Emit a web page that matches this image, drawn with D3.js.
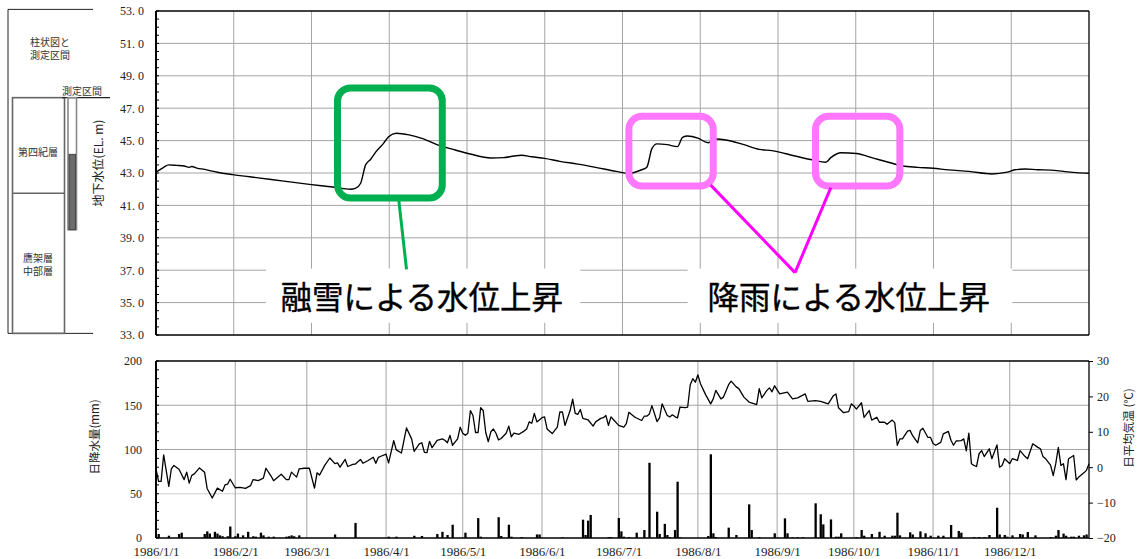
<!DOCTYPE html>
<html>
<head>
<meta charset="utf-8">
<script src="https://cdn.jsdelivr.net/npm/d3@7"></script>
<style>
body{margin:0;background:#fff;}
</style>
</head>
<body>
<svg id="chart" width="1138" height="559"></svg>
<script>
// groundwater level (EL. m), day-of-year offsets from 1986/1/1
var gwDays = [0,3,5,8,11,13,14,16,19,21,
  24,30,40,50,60,70,76,78,80,82,
  84,86,89,91,94,99,104,111,117,123,
  131,136,140,143,147,152,158,165,172,180,
  185,190,192,194,196,200,204,206,208,212,
  216,219,223,230,236,241,250,257,262,264,
  268,274,281,288,292,298,304,310,318,327,
  333,336,340,345,350,355,360,365];
var gwLevel = [43.05,43.35,43.5,43.47,43.43,43.35,43.4,43.3,43.22,43.15,
  43.05,42.9,42.7,42.5,42.3,42.12,42.0,42.05,42.35,43.5,
  43.85,44.3,44.83,45.24,45.45,45.35,45.14,44.69,44.42,44.17,
  43.93,43.95,44.05,44.1,44.0,43.9,43.72,43.55,43.35,43.1,
  42.98,43.2,43.35,44.5,44.8,44.75,44.63,45.2,45.28,45.15,
  44.87,45.1,45.04,44.75,44.46,44.38,44.05,43.8,43.66,43.95,
  44.25,44.2,43.9,43.6,43.43,43.35,43.29,43.19,43.1,42.94,
  43.05,43.2,43.25,43.2,43.18,43.1,43.02,42.98];

// daily mean temperature (deg C)
var tempDays = [0,1,2,3,5,6,7,9,11,12,
  13,14,15,17,19,20,22,24,26,27,
  28,29,31,33,35,37,38,40,42,43,
  45,46,49,51,52,53,55,56,58,60,
  62,63,64,66,68,70,71,72,74,75,
  77,78,80,81,83,85,86,87,88,90,
  91,93,94,96,98,100,101,103,104,105,
  106,107,108,110,112,113,114,115,116,118,
  119,120,121,122,123,124,125,126,127,128,
  129,130,131,132,133,134,135,137,138,139,
  140,142,144,145,146,147,148,149,151,152,
  153,155,157,158,159,160,162,163,164,165,
  166,167,169,171,172,174,175,176,177,178,
  179,181,183,184,185,187,188,190,191,192,
  193,194,196,197,198,200,201,202,203,204,
  205,207,208,209,210,211,212,213,215,217,
  218,219,221,222,224,225,227,228,230,232,
  235,236,237,239,240,241,242,244,247,249,
  251,254,255,258,260,263,265,266,267,269,
  271,272,273,274,276,277,279,280,282,283,
  285,286,288,289,290,291,292,294,295,296,
  298,299,300,302,303,304,305,307,308,310,
  311,312,313,315,316,317,318,319,320,321,
  322,323,324,326,327,329,330,331,332,334,
  335,337,338,340,341,343,345,346,347,348,
  350,351,352,353,354,355,356,357,359,360,
  361,363,364,365];
var tempVals = [-0.5,-4.0,-4.0,3.5,-5.4,-0.5,0.5,-0.6,-3.5,-1.4,
  -4.5,-2.3,-1.9,-0.2,-1.4,-6.0,-8.7,-5.9,-6.8,-5.0,
  -4.8,-3.4,-5.8,-5.7,-6.0,-5.2,-3.5,-3.8,-3.1,-0.3,
  -2.5,-3.8,-2.0,-3.5,-3.5,-1.4,-2.8,-0.5,-0.3,-0.3,
  -5.9,-1.6,-2.2,0.5,2.6,1.0,1.2,0.0,2.2,0.2,
  0.8,0.9,2.2,1.1,1.9,2.8,1.1,2.8,3.1,3.7,
  1.2,7.5,4.9,4.0,11.1,8.0,4.5,6.6,6.9,4.2,
  4.1,7.3,5.5,7.6,8.0,7.6,6.9,9.0,6.2,8.0,
  11.3,9.6,9.0,9.6,16.0,14.6,9.8,9.8,16.8,16.0,
  9.8,7.2,10.0,10.8,9.6,7.7,8.1,9.6,11.6,8.6,
  9.6,9.3,10.2,10.8,12.8,12.4,15.2,12.8,14.0,14.2,
  10.8,9.5,11.3,15.6,15.6,11.8,16.0,19.2,15.2,14.9,
  16.3,13.8,13.4,11.6,12.8,13.8,14.0,14.6,11.8,14.2,
  13.4,11.8,11.3,12.3,15.5,14.3,13.9,13.2,14.4,14.4,
  15.0,17.4,12.9,13.9,17.9,14.6,14.2,14.8,14.3,13.9,
  17.0,16.8,17.0,23.3,25.0,24.0,26.1,23.6,20.5,17.9,
  19.3,21.7,19.3,19.8,23.3,24.3,22.7,22.2,19.8,18.4,
  17.7,22.2,19.6,21.7,22.4,21.3,23.0,20.7,21.2,19.3,
  19.6,20.7,18.6,18.8,18.6,17.9,20.2,20.7,16.8,15.4,
  15.7,17.9,17.3,16.4,18.2,14.1,16.0,13.3,14.1,12.7,
  12.7,12.1,13.3,12.6,6.2,8.0,8.0,10.2,10.4,8.9,
  6.9,10.4,11.0,8.4,8.4,6.7,6.2,7.0,9.4,10.1,
  7.6,6.2,7.4,7.5,8.0,4.6,9.6,1.0,0.5,0.2,
  3.8,4.7,3.0,5.2,2.4,6.3,0.0,0.5,2.4,1.0,
  2.4,1.9,4.7,3.0,2.4,6.6,5.6,5.2,3.0,2.4,
  0.5,-2.4,1.0,5.6,0.5,1.0,-3.5,2.4,3.3,-3.6,
  -2.8,-1.6,-0.9,1.0];

// daily precipitation (mm)
var rainDays = [1,5,9,10,19,20,21,23,24,25,
  26,28,29,31,32,34,36,38,39,41,
  42,44,46,51,52,53,54,56,70,78,
  91,94,101,104,110,112,114,116,121,126,
  127,134,135,138,139,143,149,150,159,167,
  168,169,170,177,178,181,182,183,185,188,
  191,193,196,197,199,200,201,203,204,205,
  216,217,218,219,224,227,232,233,236,242,
  246,247,249,251,253,258,260,261,264,266,
  267,268,274,276,277,280,283,285,288,289,
  290,291,295,296,299,301,303,306,308,311,
  314,315,320,322,324,326,329,330,332,333,
  335,338,339,341,344,350,352,353,355,356,
  358,359,361,363,364];
var rainVals = [4.5,2.6,4.5,6,4.5,7.5,5,7,5,3,
  2,2,13,2,5,3,7,2,1.5,6,
  3,1.5,1.5,1.5,2,3,2,3,4,17,
  1.5,1.5,2.5,2.3,4.5,7,3.4,15,6,22.5,
  1.5,23.5,2.3,15,1.5,1,4,4,0.8,20.7,
  3.4,19.6,26,1,1,22.6,7.5,1.5,1,6,
  9,85,29.7,4.5,16,3.4,1,9,63.6,0.8,
  2.3,94.6,5.3,1,11.7,3.4,38,9,1,5.3,
  22.2,5.3,0.8,0.8,0.8,39.2,26.8,15.4,21,1.5,
  1.5,5.3,1,9,2.6,4.5,7,2.6,2.6,2.6,
  28.6,3,6.4,4,7.5,5.3,2.6,2.6,2.6,14.7,
  7.9,6,1,1,1,3.4,34.2,4,3.4,1.5,
  3,4.5,4,6.8,3,1,2.6,9,5,2.6,
  1.5,1.5,2.6,3,4];

var levelTicks = [33,35,37,39,41,43,45,47,49,51,53];
var rainTicks = [0,50,100,150,200];
var tempTicks = [-20,-10,0,10,20,30];
var monthLabels = ["1986/1/1","1986/2/1","1986/3/1","1986/4/1","1986/5/1","1986/6/1",
  "1986/7/1","1986/8/1","1986/9/1","1986/10/1","1986/11/1","1986/12/1"];

var SERIF = "'Liberation Serif','DejaVu Serif',serif";
var JP = "'Noto Sans CJK JP',sans-serif";

var svg = d3.select("svg#chart");
var L = 156, R = 1089;
var day0 = new Date(1986,0,1);
function toDate(d){ return d3.timeDay.offset(day0, d); }

var timeScale = d3.scaleTime().domain([day0, new Date(1987,0,1)]).range([L,R]);
var topGridScale = d3.scaleLinear().domain([0,12]).range([L,R]);
var levelScale = d3.scaleLinear().domain([33,53]).range([335,11]);
var rainScale = d3.scaleLinear().domain([0,200]).range([538,361]);
var tempScale = d3.scaleLinear().domain([-20,30]).range([538,361]);
var monthDates = d3.timeMonth.range(day0, new Date(1987,0,1));

// ---------- top chart grid ----------
var topG = svg.append("g");
topG.selectAll("line.hgrid").data(levelTicks.slice(1,-1)).enter().append("line")
  .attr("x1",L).attr("x2",R)
  .attr("y1",function(d){return levelScale(d);}).attr("y2",function(d){return levelScale(d);})
  .attr("stroke","#a4a4a4").attr("stroke-width",1);
topG.selectAll("line.vgrid").data(d3.range(1,12)).enter().append("line")
  .attr("x1",function(d){return topGridScale(d);}).attr("x2",function(d){return topGridScale(d);})
  .attr("y1",levelScale(53)).attr("y2",levelScale(33))
  .attr("stroke","#a4a4a4").attr("stroke-width",1);

// ---------- bottom chart grid ----------
var botG = svg.append("g");
botG.selectAll("line.hgrid").data([50,100,150]).enter().append("line")
  .attr("x1",L).attr("x2",R)
  .attr("y1",function(d){return rainScale(d);}).attr("y2",function(d){return rainScale(d);})
  .attr("stroke",function(d){return d==50 ? "#cfcfcf" : "#a4a4a4";}).attr("stroke-width",1);
botG.selectAll("line.vgrid").data(monthDates.slice(1)).enter().append("line")
  .attr("x1",function(d){return timeScale(d);}).attr("x2",function(d){return timeScale(d);})
  .attr("y1",rainScale(200)).attr("y2",rainScale(0))
  .attr("stroke","#a4a4a4").attr("stroke-width",1);

// ---------- annotation backgrounds (white boxes behind the captions) ----------
var notes = [
  {text:"融雪による水位上昇", cx:104.5, d0:43, d1:166},
  {text:"降雨による水位上昇", cx:271.5, d0:208, d1:335}
];
svg.selectAll("rect.notebg").data(notes).enter().append("rect")
  .attr("x",function(d){return timeScale(toDate(d.d0));})
  .attr("width",function(d){return timeScale(toDate(d.d1))-timeScale(toDate(d.d0));})
  .attr("y",levelScale(37.1)).attr("height",levelScale(33.75)-levelScale(37.1))
  .attr("fill","#fff");

// ---------- groundwater line ----------
var gwData = gwDays.map(function(d,i){return {date:toDate(d), v:gwLevel[i]};});
svg.append("path").datum(gwData)
  .attr("d", d3.line().x(function(d){return timeScale(d.date);}).y(function(d){return levelScale(d.v);}).curve(d3.curveMonotoneX))
  .attr("fill","none").attr("stroke","#000").attr("stroke-width",1.4);

// ---------- rain bars ----------
var rainData = rainDays.map(function(d,i){return {date:toDate(d), v:rainVals[i]};});
svg.selectAll("rect.rain").data(rainData).enter().append("rect")
  .attr("class","rain")
  .attr("x",function(d){return timeScale(d.date)-1;})
  .attr("width",2.3)
  .attr("y",function(d){return rainScale(d.v);})
  .attr("height",function(d){return rainScale(0)-rainScale(d.v);})
  .attr("fill","#000");

// ---------- temperature line ----------
var tempData = tempDays.map(function(d,i){return {date:toDate(d), v:tempVals[i]};});
svg.append("path").datum(tempData)
  .attr("d", d3.line().x(function(d){return timeScale(d.date);}).y(function(d){return tempScale(d.v);}))
  .attr("fill","none").attr("stroke","#000").attr("stroke-width",1.3).attr("stroke-linejoin","round");

// ---------- frames ----------
function frame(y0,y1){
  svg.append("line").attr("x1",L).attr("x2",R).attr("y1",y0).attr("y2",y0).attr("stroke","#000").attr("stroke-width",1.5);
  svg.append("line").attr("x1",L).attr("x2",R).attr("y1",y1).attr("y2",y1).attr("stroke","#000").attr("stroke-width",1.5);
  svg.append("line").attr("x1",L).attr("x2",L).attr("y1",y0).attr("y2",y1).attr("stroke","#000").attr("stroke-width",2);
  svg.append("line").attr("x1",R).attr("x2",R).attr("y1",y0).attr("y2",y1).attr("stroke","#000").attr("stroke-width",1.3);
}
frame(levelScale(53), levelScale(33));
frame(rainScale(200), rainScale(0));

// ---------- axes ----------
function styleAxis(g, size){
  g.select(".domain").remove();
  g.attr("font-family", SERIF);
  g.selectAll("text").attr("font-family", SERIF).attr("font-size", size).attr("fill", "#222");
}
var ax1 = svg.append("g").attr("transform","translate("+L+",0)")
  .call(d3.axisLeft(levelScale).tickValues(levelTicks).tickFormat(function(d){return d3.format(".1f")(d).replace(".",". ");}).tickSize(0).tickPadding(12));
styleAxis(ax1, 12);
ax1.selectAll("text").style("white-space","pre");
svg.selectAll("line.minor1").data(d3.range(33,53.01,0.5)).enter().append("line")
  .attr("x1",L).attr("x2",L+3)
  .attr("y1",function(d){return levelScale(d);}).attr("y2",function(d){return levelScale(d);})
  .attr("stroke","#000").attr("stroke-width",1);

var ax2 = svg.append("g").attr("transform","translate("+L+",0)")
  .call(d3.axisLeft(rainScale).tickValues(rainTicks).tickSize(0).tickPadding(14));
styleAxis(ax2, 12);
svg.selectAll("line.minor2").data(d3.range(0,200.1,10)).enter().append("line")
  .attr("x1",L).attr("x2",L+3)
  .attr("y1",function(d){return rainScale(d);}).attr("y2",function(d){return rainScale(d);})
  .attr("stroke","#000").attr("stroke-width",1);

var ax3 = svg.append("g").attr("transform","translate("+R+",0)")
  .call(d3.axisRight(tempScale).tickValues(tempTicks).tickFormat(function(d){return d<0 ? "\u2212"+(-d) : d;}).tickSize(4).tickPadding(4));
styleAxis(ax3, 12);
ax3.selectAll("line").attr("stroke","#000");

var ax4 = svg.append("g").attr("transform","translate(0,"+rainScale(0)+")")
  .call(d3.axisBottom(timeScale).tickValues(monthDates).tickFormat(function(d,i){return monthLabels[i];}).tickSize(0).tickPadding(9));
styleAxis(ax4, 13);

// ---------- axis titles ----------
var titles = [
  {t:"地下水位(EL. m)", x:103, y:163, size:12},
  {t:"日降水量(mm)", x:99, y:437, size:11.5},
  {t:"日平均気温 (℃)", x:1133, y:428, size:11.5}
];
svg.selectAll("text.ttl").data(titles).enter().append("text")
  .attr("transform",function(d){return "translate("+d.x+","+d.y+") rotate(-90)";})
  .attr("text-anchor","middle").attr("font-family",JP).attr("font-size",function(d){return d.size;})
  .attr("fill","#222").text(function(d){return d.t;});

// ---------- column diagram (left) ----------
var col = svg.append("g").attr("stroke","#666").attr("fill","none");
col.append("line").attr("x1",8).attr("x2",93).attr("y1",levelScale(53.1)).attr("y2",levelScale(53.1)).attr("stroke","#222");
col.append("line").attr("x1",8).attr("x2",8).attr("y1",levelScale(53.1)).attr("y2",levelScale(33.1)).attr("stroke","#222");
col.append("line").attr("x1",8).attr("x2",93).attr("y1",levelScale(33.1)).attr("y2",levelScale(33.1)).attr("stroke","#222");
col.append("rect").attr("x",12.5).attr("width",52).attr("y",levelScale(47.65)).attr("height",levelScale(33.1)-levelScale(47.65)).attr("stroke-width",1.6);
col.append("line").attr("x1",12.5).attr("x2",64.5).attr("y1",levelScale(41.75)).attr("y2",levelScale(41.75)).attr("stroke-width",1.6);
col.append("line").attr("x1",62).attr("x2",110).attr("y1",levelScale(47.65)).attr("y2",levelScale(47.65)).attr("stroke","#222").attr("stroke-width",1.2);
col.append("rect").attr("x",68).attr("width",8.5).attr("y",levelScale(47.65)).attr("height",levelScale(39.5)-levelScale(47.65)).attr("stroke","#888").attr("stroke-width",1.6);
col.append("rect").attr("x",69).attr("width",6.5).attr("y",levelScale(44.15)).attr("height",levelScale(39.5)-levelScale(44.15)).attr("fill","#6b6b6b").attr("stroke","#444").attr("stroke-width",1);

var colText = [
  {t:"柱状図と", x:50, y:46},
  {t:"測定区間", x:50, y:59},
  {t:"測定区間", x:82, y:95},
  {t:"第四紀層", x:38, y:156},
  {t:"鷹架層", x:38, y:262},
  {t:"中部層", x:38, y:275}
];
svg.selectAll("text.coltxt").data(colText).enter().append("text")
  .attr("x",function(d){return d.x;}).attr("y",function(d){return d.y;})
  .attr("text-anchor","middle").attr("font-family",JP).attr("font-size",10).attr("fill","#333").text(function(d){return d.t;});

// ---------- annotations ----------
svg.selectAll("text.note").data(notes).enter().append("text")
  .attr("x",function(d){return timeScale(toDate(d.cx));}).attr("y",levelScale(34.6))
  .attr("text-anchor","middle").attr("font-family",JP).attr("font-weight",400)
  .attr("font-size",31.5).attr("fill","#000").attr("stroke","#000").attr("stroke-width",0.4)
  .text(function(d){return d.text;});

var boxes = [
  {d0:71.3, d1:112.6, v0:48.25, v1:41.45, color:"#00b050"},
  {d0:185.5, d1:218.3, v0:46.5, v1:42.2, color:"#ff77ff"},
  {d0:258.6, d1:291.0, v0:46.5, v1:42.2, color:"#ff77ff"}
];
svg.selectAll("rect.box").data(boxes).enter().append("rect")
  .attr("x",function(d){return timeScale(toDate(d.d0));})
  .attr("y",function(d){return levelScale(d.v0);})
  .attr("width",function(d){return timeScale(toDate(d.d1))-timeScale(toDate(d.d0));})
  .attr("height",function(d){return levelScale(d.v1)-levelScale(d.v0);})
  .attr("rx",13).attr("fill","none").attr("stroke",function(d){return d.color;}).attr("stroke-width",7);

var leaders = [
  {d0:95.9, v0:41.3, d1:98.6, v1:37.05, color:"#00b050"},
  {d0:217.0, v0:42.25, d1:250.8, v1:36.85, color:"#ff00ff"},
  {d0:264.4, v0:42.1, d1:250.8, v1:36.85, color:"#ff00ff"}
];
svg.selectAll("line.leader").data(leaders).enter().append("line")
  .attr("x1",function(d){return timeScale(toDate(d.d0));}).attr("y1",function(d){return levelScale(d.v0);})
  .attr("x2",function(d){return timeScale(toDate(d.d1));}).attr("y2",function(d){return levelScale(d.v1);})
  .attr("stroke",function(d){return d.color;}).attr("stroke-width",3);
</script>
</body>
</html>
